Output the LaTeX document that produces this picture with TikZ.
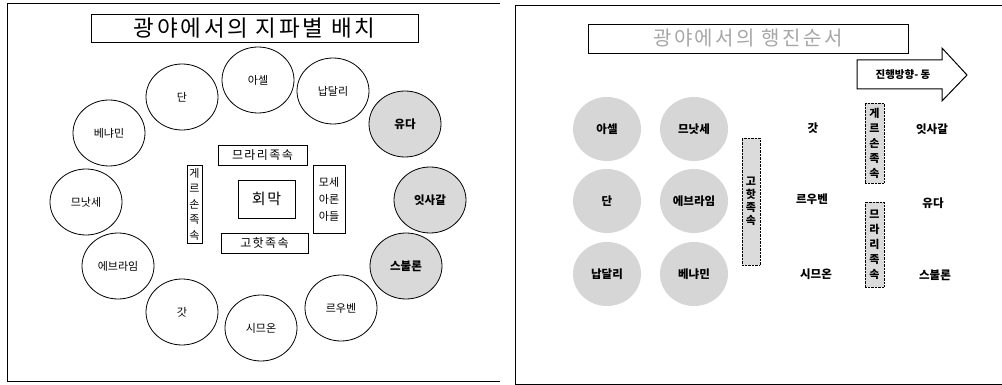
\documentclass[tikz,border=0pt]{standalone}
\usepackage{fontspec}
\newfontfamily\kr{Noto Sans CJK KR}
\newfontfamily\krs{Noto Sans CJK KR}[LetterSpace=12]
\usetikzlibrary{shapes.geometric}
\begin{document}
\begin{tikzpicture}[x=1pt,y=-1pt,font=\kr,
  frame/.style={line width=0.9pt},
  tribe/.style={ellipse,draw,line width=0.8pt,minimum width=72pt,minimum height=66pt,inner sep=0pt,font=\kr\fontsize{11}{13}\selectfont},
  darktribe/.style={tribe,fill=gray!30,font=\kr\bfseries\fontsize{11.5}{13}\selectfont},
  march/.style={ellipse,fill=gray!32,minimum width=68pt,minimum height=64pt,inner sep=0pt,font=\kr\bfseries\fontsize{11.5}{13}\selectfont},
  clan/.style={draw,line width=0.8pt,inner sep=0pt,align=center,font=\krs\fontsize{12}{15.5}\selectfont},
  vclan/.style={draw,densely dotted,fill=gray!28,inner sep=0pt,align=center,font=\kr\bfseries\fontsize{11}{15}\selectfont},
  titlebox/.style={draw,line width=0.8pt,inner sep=0pt},
  plain/.style={inner sep=0pt,font=\kr\bfseries\fontsize{11.5}{13}\selectfont}]
\useasboundingbox (0,0) rectangle (1002,385);
% panel frames
\draw[frame] (500,3) -- (7,3) -- (7,381) -- (500,381);
\draw[frame] (1002,5) -- (515,5) -- (515,384) -- (1002,384);
% left panel
\node[titlebox,minimum width=327pt,minimum height=28pt,font=\krs\fontsize{22.5}{24}\selectfont] (t1) at (254.5,28) {광야에서의 지파별 배치};
\node[tribe] (dan) at (182,97) {단};
\node[tribe] (asher) at (258,80) {아셀};
\node[tribe] (naph) at (333,91) {납달리};
\node[tribe] (benj) at (109,133) {베냐민};
\node[tribe] (manas) at (86,202) {므낫세};
\node[tribe] (ephr) at (118,266) {에브라임};
\node[tribe] (gad) at (182,312) {갓};
\node[tribe] (sim) at (261,328) {시므온};
\node[tribe] (reub) at (341,308) {르우벤};
\node[darktribe] (judah) at (405,124) {유다};
\node[darktribe] (issa) at (430,200) {잇사갈};
\node[darktribe] (zeb) at (406,266) {스불론};
\node[clan,minimum width=89pt,minimum height=20pt] (merari) at (262.5,155) {므라리족속};
\node[clan,minimum width=15pt,minimum height=78pt,font=\kr\fontsize{11}{15.5}\selectfont] (gersh) at (194.5,204) {게\\르\\손\\족\\속};
\node[clan,minimum width=57pt,minimum height=38pt,font=\krs\fontsize{15}{16}\selectfont] (tent) at (266.5,199) {회막};
\node[clan,minimum width=32pt,minimum height=68pt,font=\kr\fontsize{11}{17}\selectfont] (moses) at (329,199) {모세\\아론\\아들};
\node[clan,minimum width=87pt,minimum height=20pt] (kohath) at (264.5,243) {고핫족속};
% right panel
\node[titlebox,minimum width=320pt,minimum height=29pt,text=gray!70,font=\krs\fontsize{20}{22}\selectfont] (t2) at (748,38.5) {광야에서의 행진순서};
\draw[line width=1pt] (857,60) -- (942,60) -- (942,48) -- (967,75) -- (942,101) -- (942,89) -- (857,89) -- cycle;
\node[plain,font=\kr\bfseries\fontsize{10.5}{12}\selectfont] (dir) at (903,75) {진행방향- 동};
\node[march] (rasher) at (607,129) {아셀};
\node[march] (rmanas) at (694,129) {므낫세};
\node[march] (rdan) at (607,201) {단};
\node[march] (rephr) at (694,201) {에브라임};
\node[march] (rnaph) at (607,274) {납달리};
\node[march] (rbenj) at (694,274) {베냐민};
\node[vclan,minimum width=18pt,minimum height=127pt,font=\kr\bfseries\fontsize{11}{13}\selectfont] (rkohath) at (751,201.5) {고\\핫\\족\\속};
\node[plain] (rgad) at (813,128) {갓};
\node[plain] (rreub) at (812,199) {르우벤};
\node[plain] (rsim) at (816,274) {시므온};
\node[vclan,minimum width=19pt,minimum height=80pt] (rgersh) at (874.5,143) {게\\르\\손\\족\\속};
\node[vclan,minimum width=19pt,minimum height=85pt] (rmerari) at (874.5,244.5) {므\\라\\리\\족\\속};
\node[plain] (rissa) at (932,129) {잇사갈};
\node[plain] (rjudah) at (933,203) {유다};
\node[plain] (rzeb) at (935,275) {스불론};
\end{tikzpicture}
\end{document}
